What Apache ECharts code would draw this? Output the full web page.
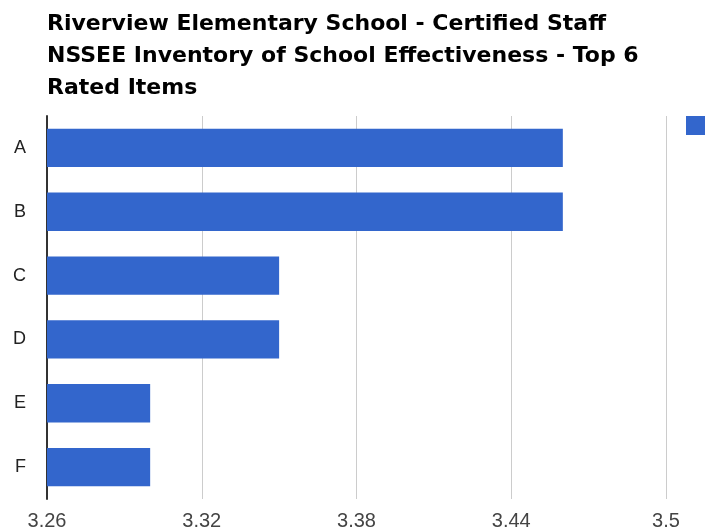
<!DOCTYPE html>
<html><head><meta charset="utf-8">
<script src="https://cdn.jsdelivr.net/npm/echarts@6/dist/echarts.min.js"></script>
<style>html,body{margin:0;padding:0;background:#fff}#c{width:705px;height:532px}</style>
</head><body><div id="c"></div>
<script>
const titleText = "Riverview Elementary School - Certified Staff\nNSSEE Inventory of School Effectiveness - Top 6\nRated Items";
const categories = ["A", "B", "C", "D", "E", "F"];
const values = [3.46, 3.46, 3.35, 3.35, 3.30, 3.30];
const xTicks = [3.26, 3.32, 3.38, 3.44, 3.5];
const seriesName = "Mean";

const chart = echarts.init(document.getElementById('c'));
chart.setOption({
  animation: false,
  backgroundColor: '#fff',
  title: {
    text: titleText,
    left: 42, top: 3,
    textStyle: { fontFamily: 'DejaVu Sans', fontWeight: 'bold', fontSize: 22, lineHeight: 32, color: '#000' }
  },
  legend: {
    show: true, left: 681, top: 111, itemWidth: 20, itemHeight: 19,
    icon: 'rect', data: [seriesName], formatter: () => '',
    textStyle: { fontSize: 1 }
  },
  grid: { left: 47, right: 39, top: 116, bottom: 33, containLabel: false },
  xAxis: {
    type: 'value', min: xTicks[0], max: xTicks[xTicks.length - 1], interval: 0.06,
    axisLine: { show: false }, axisTick: { show: false },
    splitLine: { show: true, lineStyle: { color: '#cccccc', width: 1 } },
    axisLabel: {
      margin: 12, fontFamily: 'Liberation Sans', fontSize: 20, color: '#444',
      formatter: v => { const t = xTicks.find(x => Math.abs(x - v) < 1e-6); return t === undefined ? '' : String(t); }
    }
  },
  yAxis: {
    type: 'category', data: categories, inverse: true,
    axisLine: { show: true, lineStyle: { color: '#333', width: 2 } },
    axisTick: { show: false },
    axisLabel: { margin: 21, fontFamily: 'Liberation Sans', fontSize: 18, color: '#222' }
  },
  series: [{
    name: seriesName, type: 'bar', data: values,
    itemStyle: { color: '#3366cc' },
    barCategoryGap: '40%'
  }]
});
</script></body></html>
